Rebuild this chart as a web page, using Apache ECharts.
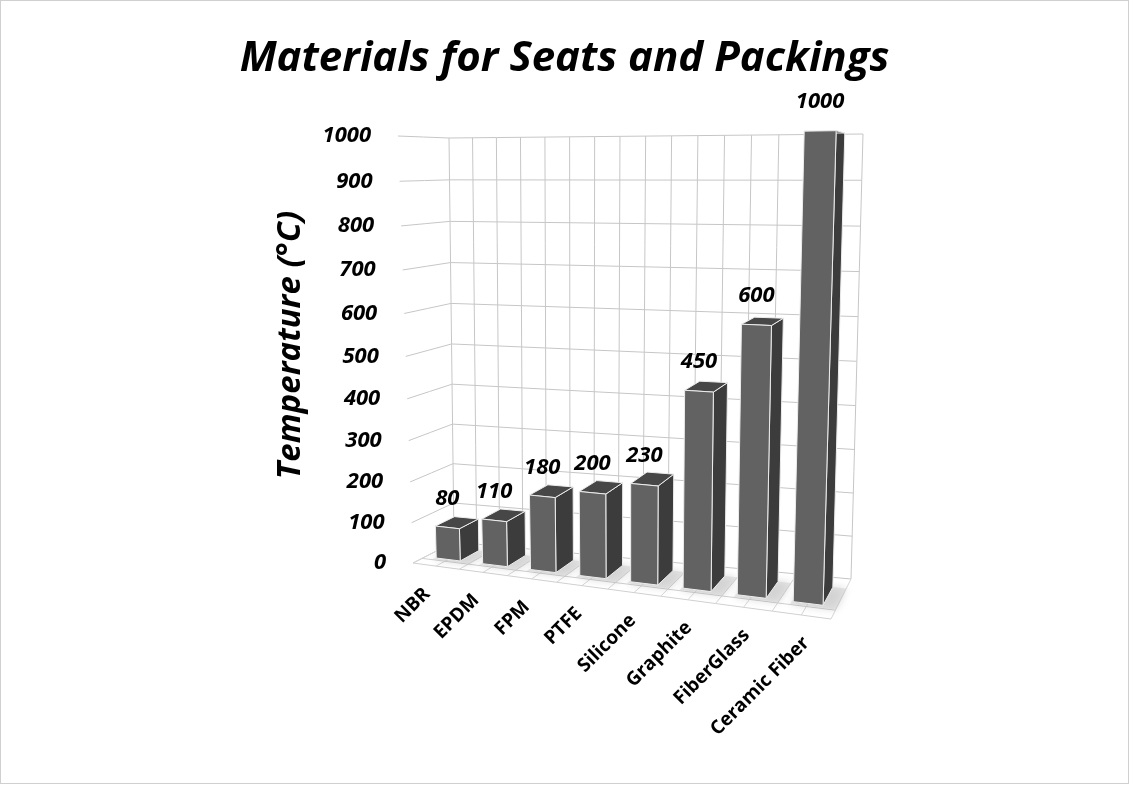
<!DOCTYPE html>
<html>
<head>
<meta charset="utf-8">
<script src="https://cdn.jsdelivr.net/npm/echarts@6/dist/echarts.min.js"></script>
<style>
html, body { margin: 0; padding: 0; background: #fff; }
#chart { width: 1127px; height: 782px; border: 1px solid #d0d0d0; }
</style>
</head>
<body>
<div id="chart"></div>
<script>
var categories = ['NBR', 'EPDM', 'FPM', 'PTFE', 'Silicone', 'Graphite', 'FiberGlass', 'Ceramic Fiber'];
var temperatures = [80, 110, 180, 200, 230, 450, 600, 1000];
var yTicks = [0, 100, 200, 300, 400, 500, 600, 700, 800, 900, 1000];

// corners of the back wall (z=0) and of the front plane (z=1): [u0v0, u1v0, u1v1, u0v1]
var backQuad = [[453, 541], [850, 578], [862, 133], [448, 137]];
var frontQuad = [[412, 562], [830, 618], [845, 128], [397, 135]];
var GL = 448, GT = 136, GW = 414, GH = 405;
var FONT = '"Open Sans", sans-serif';

function quadMap(q) {
    var x0 = q[0][0], y0 = q[0][1], x1 = q[1][0], y1 = q[1][1];
    var x2 = q[2][0], y2 = q[2][1], x3 = q[3][0], y3 = q[3][1];
    var sx = x0 - x1 + x2 - x3, sy = y0 - y1 + y2 - y3;
    var dx1 = x1 - x2, dx2 = x3 - x2, dy1 = y1 - y2, dy2 = y3 - y2;
    var den = dx1 * dy2 - dx2 * dy1;
    var g = (sx * dy2 - dx2 * sy) / den, h = (dx1 * sy - sx * dy1) / den;
    var a = x1 - x0 + g * x1, b = x3 - x0 + h * x3;
    var d = y1 - y0 + g * y1, e = y3 - y0 + h * y3;
    return function (u, v) {
        var w = g * u + h * v + 1;
        return [(a * u + b * v + x0) / w, (d * u + e * v + y0) / w];
    };
}
var backMap = quadMap(backQuad), frontMap = quadMap(frontQuad);

// u: across categories, v: up the value axis, z: depth (0 back wall, 1 front)
function P(u, v, z) {
    var b = backMap(u, v), f = frontMap(u, v);
    return [b[0] + (f[0] - b[0]) * z, b[1] + (f[1] - b[1]) * z];
}
function toUV(api, cat, val) {
    var c = api.coord([cat, val]);
    return [(c[0] - GL) / GW, (GT + GH - c[1]) / GH];
}
function line(pts, color) {
    return { type: 'polyline', shape: { points: pts }, style: { stroke: color, lineWidth: 1, fill: null }, silent: true };
}
function seg(a, b, n) {
    var pts = [];
    for (var k = 0; k <= n; k++) {
        var t = k / n;
        pts.push(P(a[0] + (b[0] - a[0]) * t, a[1] + (b[1] - a[1]) * t, a[2] + (b[2] - a[2]) * t));
    }
    return pts;
}

var gridColor = '#c6c6c6';

function renderFrame(params, api) {
    var v = toUV(api, 0, api.value(1))[1];
    var children = [];
    children.push(line(seg([0, v, 0], [1, v, 0], 8), gridColor));
    children.push(line(seg([0, v, 1], [0, v, 0], 2), gridColor));
    var lp = P(0, v, 1);
    children.push({
        type: 'text', x: lp[0] - 27, y: lp[1],
        style: { text: String(api.value(1)), align: 'right', verticalAlign: 'middle',
            fontFamily: FONT, fontSize: 22, fontWeight: 'bold', fontStyle: 'italic', fill: '#000' }
    });
    if (params.dataIndex === 0) {
        for (var k = 0; k <= 16; k++) {
            children.push(line(seg([k / 16, 0, 0], [k / 16, 1, 0], 4), gridColor));
            children.push(line(seg([k / 16, 0, 0], [k / 16, 0, 1], 2), '#d6d6d6'));
        }
        [0.78, 1].forEach(function (z) {
            children.push(line(seg([0, 0, z], [1, 0, z], 8), '#d0d0d0'));
        });
    }
    return { type: 'group', children: children };
}

function renderBar(params, api) {
    var i = api.value(0), val = api.value(1);
    var top = toUV(api, i, val), base = toUV(api, i, 0);
    var hw = api.size([1, 0])[0] / GW * 0.26;
    var uL = top[0] - hw, uR = top[0] + hw, vT = top[1], vB = base[1];
    var zF = 0.7, zB = 0.24;
    var edge = { stroke: '#ececec', lineWidth: 1 };
    var shadow = [P(uL - 0.004, vB, zF + 0.06), P(uR + 0.03, vB, zF + 0.06), P(uR + 0.03, vB, zB), P(uL, vB, zB)];
    var front = [P(uL, vB, zF), P(uR, vB, zF), P(uR, vT, zF), P(uL, vT, zF)];
    var side = [P(uR, vB, zF), P(uR, vB, zB), P(uR, vT, zB), P(uR, vT, zF)];
    var topFace = [P(uL, vT, zF), P(uR, vT, zF), P(uR, vT, zB), P(uL, vT, zB)];
    var lab = P(top[0], vT, zF);
    var cat = P(top[0], 0, 1);
    return {
        type: 'group',
        children: [
            { type: 'polygon', shape: { points: shadow }, style: { fill: 'rgba(205,205,205,0.5)', shadowBlur: 8, shadowColor: 'rgba(0,0,0,0.3)' } },
            { type: 'polygon', shape: { points: side }, style: Object.assign({ fill: '#3c3c3c' }, edge) },
            { type: 'polygon', shape: { points: topFace }, style: Object.assign({ fill: '#474747' }, edge) },
            { type: 'polygon', shape: { points: front }, style: Object.assign({ fill: '#626262' }, edge) },
            {
                type: 'text', x: lab[0], y: lab[1] - 29,
                style: { text: String(val), align: 'center', verticalAlign: 'middle',
                    fontFamily: FONT, fontSize: 22, fontWeight: 'bold', fontStyle: 'italic', fill: '#000' }
            },
            {
                type: 'text', x: cat[0] - 10 + 16 * top[0], y: cat[1] + 25, rotation: Math.PI / 4,
                style: { text: categories[i], align: 'right', verticalAlign: 'middle',
                    fontFamily: FONT, fontSize: 19, fontWeight: 'bold', fill: '#000' }
            }
        ]
    };
}

var chartDom = document.getElementById('chart');
var myChart = echarts.init(chartDom);
var option = {
    animation: false,
    title: {
        text: 'Materials for Seats and Packings',
        left: 'center',
        top: 32,
        textStyle: { fontFamily: FONT, fontSize: 42, fontWeight: 'bold', fontStyle: 'italic', color: '#000' }
    },
    graphic: [{
        type: 'text', x: 290, y: 344, rotation: Math.PI / 2,
        style: { text: 'Temperature (°C)', align: 'center', verticalAlign: 'middle',
            fontFamily: FONT, fontSize: 33, fontWeight: 'bold', fontStyle: 'italic', fill: '#000' }
    }],
    grid: { left: GL, top: GT, width: GW, height: GH },
    xAxis: { type: 'category', data: categories, show: false },
    yAxis: { type: 'value', min: 0, max: 1000, interval: 100, show: false },
    series: [
        {
            type: 'custom',
            renderItem: renderFrame,
            data: yTicks.map(function (t) { return [0, t]; }),
            z: 1,
            silent: true
        },
        {
            type: 'custom',
            renderItem: renderBar,
            data: temperatures.map(function (t, i) { return [i, t]; }),
            z: 2,
            silent: true
        }
    ]
};
option && myChart.setOption(option);
</script>
</body>
</html>
